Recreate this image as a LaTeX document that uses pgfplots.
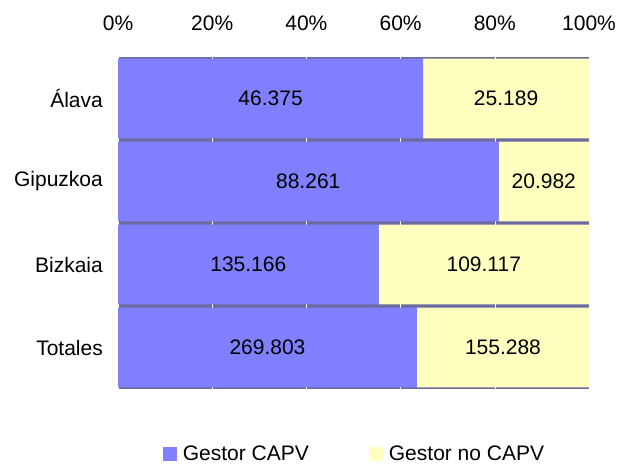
\documentclass[border=0pt]{standalone}
\usepackage{pgfplots}
\pgfplotsset{compat=1.18}
\usepackage{fontspec}
\setmainfont{Liberation Sans}
\definecolor{cblue}{RGB}{128,128,255}
\definecolor{cyellow}{RGB}{255,255,192}
\definecolor{cgap}{RGB}{107,107,160}
\begin{document}
\begin{tikzpicture}
\path[use as bounding box] (0,0) rectangle (617bp,-465bp);
\begin{axis}[
  at={(118bp,-57bp)}, anchor=north west,
  scale only axis, width=471bp, height=332bp,
  font=\fontsize{21bp}{25bp}\selectfont,
  xbar stacked,
  bar width=0.96,
  xmin=0, xmax=100,
  ymin=-0.5, ymax=3.5,
  y dir=reverse,
  ytick={0,1,2,3},
  yticklabels={Álava,Gipuzkoa,Bizkaia,Totales},
  xtick={0,20,40,60,80,100},
  xticklabels={0\%,20\%,40\%,60\%,80\%,100\%},
  xticklabel pos=upper,
  xticklabel style={anchor=base, inner sep=0pt, yshift=27bp},
  yticklabel style={anchor=east, inner xsep=0pt, xshift=-15bp},
  major tick length=0pt,
  tick style={draw=none},
  axis line style={draw=none},
  axis background/.style={fill=cgap},
  xmajorgrids,
  grid style={white, line width=0.6pt},
  point meta=explicit symbolic,
  nodes near coords,
  nodes near coords align=center,
  every node near coord/.append style={anchor=center, black},
  legend columns=2,
  legend style={at={(0.5,-0.195)}, anchor=center, draw=none, fill=none,
    nodes={inner xsep=0pt, inner ysep=1pt},
    /tikz/every even column/.append style={column sep=60bp},
    inner sep=0pt},
  legend image code/.code={\fill[#1] (0bp,-7bp) rectangle (14bp,7bp); \path (20bp,0bp);},
]
\addplot[fill=cblue, draw=none] coordinates {
  (64.80,0) [46.375]
  (80.79,1) [88.261]
  (55.33,2) [135.166]
  (63.47,3) [269.803]
};
\addlegendentry{Gestor CAPV}
\addplot[fill=cyellow, draw=none] coordinates {
  (35.20,0) [25.189]
  (19.21,1) [20.982]
  (44.67,2) [109.117]
  (36.53,3) [155.288]
};
\addlegendentry{Gestor no CAPV}
\end{axis}
\end{tikzpicture}
\end{document}
